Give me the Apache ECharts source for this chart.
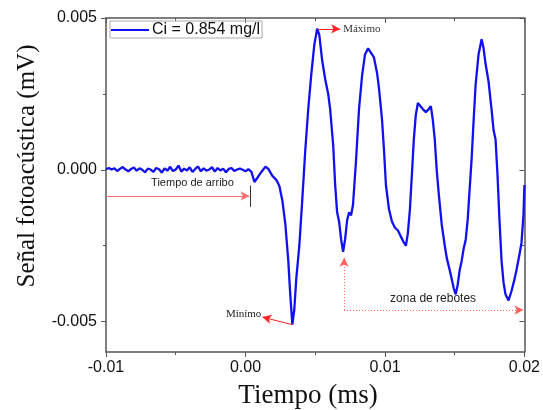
<!DOCTYPE html>
<html><head><meta charset="utf-8">
<script src="https://cdn.jsdelivr.net/npm/echarts@6/dist/echarts.min.js"></script>
<style>html,body{margin:0;padding:0;background:#fff}#c{width:543px;height:410px}</style>
</head><body><div id="c"></div>
<script>
// ---- data (time in ms, signal in mV) ----
const seriesName = 'Ci = 0.854 mg/l';
const time = [
 -0.0100,-0.0098,-0.0096,-0.0094,-0.0092,-0.0090,-0.0088,-0.0086,-0.0084,-0.0082,
 -0.0080,-0.0078,-0.0076,-0.0074,-0.0072,-0.0070,-0.0068,-0.0066,-0.0064,-0.0062,
 -0.0060,-0.0058,-0.0056,-0.0054,-0.0052,-0.0050,-0.0048,-0.0046,-0.0044,-0.0042,
 -0.0040,-0.0038,-0.0036,-0.0034,-0.0032,-0.0030,-0.0028,-0.0026,-0.0024,-0.0022,
 -0.0020,-0.0018,-0.0016,-0.0014,-0.0012,-0.0010,-0.0008,-0.0006,-0.0004,-0.0002,
 0.0000,0.0002,
 0.00043,0.00064,0.00086,0.00114,0.00143,0.00164,0.00193,0.00221,0.00243,0.00264,
 0.00286,0.00307,0.00321,0.00336,0.0035,0.00364,0.00386,0.00407,0.00429,0.0045,
 0.00471,0.00493,0.00514,0.00529,0.0055,0.00571,0.00593,0.00607,0.00629,0.00643,
 0.00657,0.00671,0.00686,0.007,0.00714,0.00729,0.00743,0.00757,0.00771,0.00793,
 0.00814,0.00836,0.00857,0.00879,0.00893,0.00907,0.00921,0.00943,0.00957,0.00979,
 0.00993,0.01007,0.01029,0.0105,0.01071,0.01093,0.01114,0.01136,0.0115,0.01164,
 0.01179,0.01193,0.01207,0.01221,0.01236,0.0125,0.01271,0.01293,0.01314,0.01329,
 0.01343,0.01357,0.01371,0.01386,0.01407,0.01429,0.01443,0.01464,0.01479,0.01493,
 0.01507,0.01521,0.01536,0.0155,0.01564,0.01579,0.01593,0.01607,0.01621,0.01636,
 0.0165,0.01671,0.01693,0.01707,0.01721,0.01743,0.01764,0.01779,0.01793,0.01807,
 0.01821,0.01836,0.0185,0.01864,0.01886,0.01907,0.01929,0.01943,0.01964,0.01979,
 0.01993,0.02
];
const signal = [
 0.00002,0.00006,0.00001,0.00005,-0.00004,0.00003,0.00009,0.00001,-0.00005,0.00003,
 0.00008,-0.00003,0.00005,0.00000,-0.00008,0.00004,0.00001,-0.00007,0.00006,0.00002,
 -0.00009,0.00005,-0.00003,0.00010,-0.00004,0.00001,0.00014,-0.00006,0.00004,-0.00002,
 0.00008,-0.00007,0.00003,0.00011,-0.00005,0.00005,-0.00003,0.00001,0.00009,-0.00006,
 0.00006,-0.00002,0.00004,-0.00008,0.00003,0.00006,-0.00004,0.00001,0.00004,0.00000,
 -0.00005,0.00002,
 -0.00007,-0.0004,-0.00026,-0.00007,0.0001,0.00003,-0.0002,-0.00033,-0.00053,-0.001,
 -0.0018,-0.003,-0.0041,-0.0051,-0.0046,-0.0036,-0.0025,-0.001,0.00066,0.002,
 0.0031,0.0041,0.00465,0.00445,0.0036,0.003,0.0025,0.002,0.0008,-0.0005,
 -0.0014,-0.0017,-0.0023,-0.0027,-0.0023,-0.00165,-0.0014,-0.0015,-0.00115,0.00033,
 0.002,0.0031,0.0038,0.004,0.0039,0.0038,0.0037,0.0032,0.0027,0.00165,
 0.00066,-0.0005,-0.0013,-0.0017,-0.0019,-0.002,-0.0022,-0.0024,-0.0025,-0.0021,
 -0.0013,-0.00017,0.001,0.0018,0.0022,0.0022,0.002,0.0019,0.002,0.0021,
 0.00165,0.001,0,-0.0008,-0.0018,-0.0025,-0.0029,-0.0033,-0.0036,-0.0039,
 -0.0041,-0.0038,-0.0033,-0.003,-0.0026,-0.0023,-0.00165,-0.00066,0.00033,0.00165,
 0.0028,0.0038,0.0043,0.004,0.0035,0.0029,0.002,0.0013,0.001,-0.00017,
 -0.00165,-0.003,-0.0037,-0.0041,-0.0043,-0.004,-0.0036,-0.0033,-0.0028,-0.0024,
 -0.0015,-0.0005
];
const xTicks = [-0.01, 0.00, 0.01, 0.02];
const yTicks = [-0.005, 0.000, 0.005];
const yMinorTicks = [-0.0025, 0.0025];
const xTitle = 'Tiempo (ms)';
const yTitle = 'Señal fotoacústica (mV)';
// annotation anchors (data coordinates)
const maxPoint = [0.00521, 0.00464], maxArrowEnd = [0.00679, 0.00464];
const minPoint = [0.00336, -0.0051], minArrowEnd = [0.00121, -0.00485];
const arriboStart = [-0.01, -0.00086], arriboEnd = [0.00029, -0.00086];
const arriboMark = [0.00036, -0.00052, -0.00122];
const reboteUpStart = [0.00707, -0.00462], reboteUpEnd = [0.00707, -0.0029];
const reboteRightEnd = [0.01993, -0.00462];

const chart = echarts.init(document.getElementById('c'), null, {renderer: 'canvas'});
const axisCol = '#555';
const sans = 'Liberation Sans, Arial, sans-serif';
const serif = 'Liberation Serif, Times New Roman, serif';
const xBase = {min: -0.01, max: 0.02, interval: 0.01, splitLine: {show: false}};
const yBase = {type: 'value', min: -0.006, max: 0.005, splitLine: {show: false}};

const red = '#ff2020';
function seg(a, b, opts) {
  return [{coord: a, symbol: opts.s0 || 'none'}, {coord: b, symbol: opts.s1 || 'none', lineStyle: opts.ls}];
}

const option = {
  animation: false,
  grid: {left: 106, right: 16, top: 18, bottom: 58},
  legend: {
    show: true, left: 110, top: 21, orient: 'horizontal',
    padding: [1, 2, 0, 1], itemGap: 0, itemWidth: 38, itemHeight: 14,
    borderColor: '#aaa', borderWidth: 1, borderRadius: 0,
    textStyle: {fontFamily: sans, fontSize: 16, color: '#111', padding: [0, 0, 0, -2]},
    data: [{name: seriesName, icon: 'path://M0,6 L38,6 L38,8 L0,8 Z'}]
  },
  xAxis: [
    Object.assign({type: 'value', position: 'bottom',
      axisLine: {show: true, onZero: false, lineStyle: {color: axisCol, width: 1.5}},
      axisTick: {show: true, inside: false, length: 5, lineStyle: {color: axisCol, width: 1}},
      minorTick: {show: true, splitNumber: 2, length: 3, lineStyle: {color: axisCol, width: 1}},
      axisLabel: {margin: 8, fontFamily: sans, fontSize: 16, color: '#111',
        customValues: xTicks, formatter: v => v.toFixed(2)}}, xBase),
    Object.assign({type: 'value', position: 'top',
      axisLine: {show: true, onZero: false, lineStyle: {color: axisCol, width: 1.5}},
      axisTick: {show: true, inside: true, length: 5, lineStyle: {color: axisCol, width: 1}},
      minorTick: {show: true, splitNumber: 2, length: 3, lineStyle: {color: axisCol, width: 1}},
      axisLabel: {show: false}}, xBase)
  ],
  yAxis: [
    Object.assign({position: 'left',
      axisLine: {show: true, onZero: false, lineStyle: {color: axisCol, width: 1.5}},
      axisTick: {show: true, inside: false, length: 5, customValues: yTicks, lineStyle: {color: axisCol, width: 1}},
      axisLabel: {margin: 9, fontFamily: sans, fontSize: 16, color: '#111',
        customValues: yTicks, formatter: v => v.toFixed(3)}}, yBase),
    Object.assign({position: 'left',
      axisLine: {show: false, onZero: false},
      axisTick: {show: true, inside: false, length: 3, customValues: yMinorTicks, lineStyle: {color: axisCol, width: 1}},
      axisLabel: {show: false}}, yBase),
    Object.assign({position: 'right',
      axisLine: {show: true, onZero: false, lineStyle: {color: axisCol, width: 1.5}},
      axisTick: {show: true, inside: true, length: 5, customValues: yTicks, lineStyle: {color: axisCol, width: 1}},
      axisLabel: {show: false}}, yBase),
    Object.assign({position: 'right',
      axisLine: {show: false, onZero: false},
      axisTick: {show: true, inside: true, length: 3, customValues: yMinorTicks, lineStyle: {color: axisCol, width: 1}},
      axisLabel: {show: false}}, yBase)
  ],
  series: [{
    name: seriesName, type: 'line', xAxisIndex: 0, yAxisIndex: 0,
    data: time.map((t, i) => [t, signal[i]]),
    showSymbol: false, symbol: 'none',
    lineStyle: {color: '#1010f0', width: 2.3},
    itemStyle: {color: '#1010f0'},
    markLine: {
      silent: true, symbolSize: [7, 9], label: {show: false}, animation: false,
      lineStyle: {color: red, width: 1, type: 'solid'},
      data: [
        seg(maxPoint, maxArrowEnd, {s1: 'arrow', ls: {color: red, width: 1, type: 'solid'}}),
        seg(minPoint, minArrowEnd, {s1: 'arrow', ls: {color: red, width: 1, type: 'solid'}}),
        seg(arriboStart, arriboEnd, {s1: 'arrow', ls: {color: '#ff7070', width: 1, type: 'solid'}}),
        seg([arriboMark[0], arriboMark[1]], [arriboMark[0], arriboMark[2]], {ls: {color: '#333', width: 1, type: 'solid'}}),
        seg(reboteUpStart, reboteUpEnd, {s1: 'arrow', ls: {color: '#ff6060', width: 1, type: [1, 2]}}),
        seg(reboteUpStart, reboteRightEnd, {s1: 'arrow', ls: {color: '#ff6060', width: 1, type: [1, 2]}})
      ]
    }
  }]
};
chart.setOption(option);

function px(p) { return chart.convertToPixel({xAxisIndex: 0, yAxisIndex: 0}, p); }
const pMax = px([0.00679, 0.00464]);
const pMin = px([0.00121, -0.00485]);
const pArr = px([0.0, -0.00086]);
const pReb = px([0.01345, -0.00462]);
chart.setOption({
  graphic: [
    {type: 'text', x: pMax[0] + 3, y: pMax[1], style: {text: 'Máximo', font: '11px ' + serif, fill: '#333', align: 'left', verticalAlign: 'middle'}},
    {type: 'text', x: pMin[0] - 1, y: pMin[1] - 3, style: {text: 'Minímo', font: '11px ' + serif, fill: '#222', align: 'right', verticalAlign: 'middle'}},
    {type: 'text', x: pArr[0] - 53, y: pArr[1] - 13, style: {text: 'Tiempo de arribo', font: '11px ' + sans, fill: '#222', align: 'center', verticalAlign: 'middle'}},
    {type: 'text', x: pReb[0], y: pReb[1] - 11, style: {text: 'zona de rebotes', font: '12px ' + sans, fill: '#222', align: 'center', verticalAlign: 'middle'}},
    {type: 'text', x: 308, y: 396, style: {text: xTitle, font: '27px ' + serif, fill: '#111', align: 'center', verticalAlign: 'middle'}},
    {type: 'text', x: 27, y: 166, rotation: Math.PI / 2, style: {text: yTitle, font: '25px ' + serif, fill: '#111', align: 'center', verticalAlign: 'middle'}}
  ]
});
</script></body></html>
